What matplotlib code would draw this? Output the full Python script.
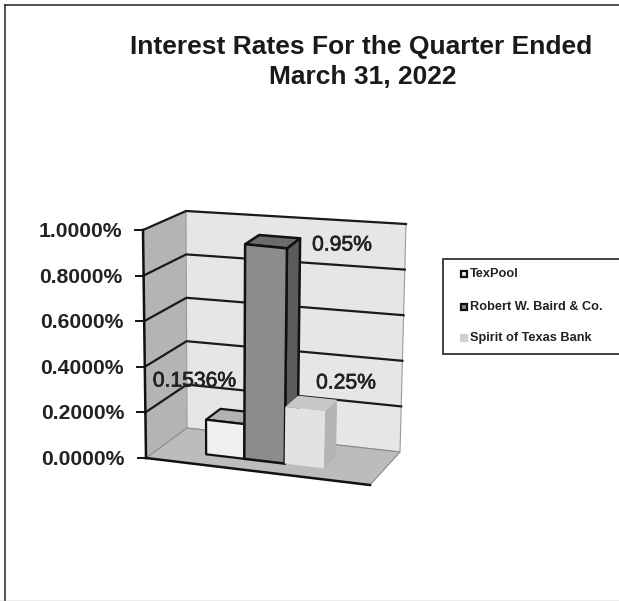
import numpy as np
import matplotlib
matplotlib.use('Agg')
import matplotlib.pyplot as plt
import matplotlib.patheffects as pe
from matplotlib.patches import Polygon, Rectangle

plt.rcParams['font.family'] = ['Liberation Sans', 'DejaVu Sans']

names = ['TexPool', 'Robert W. Baird & Co.', 'Spirit of Texas Bank']
rates = [0.1536, 0.95, 0.25]
rate_labels = ['0.1536%', '0.95%', '0.25%']
ticks = [0.0, 0.2, 0.4, 0.6, 0.8, 1.0]
tick_labels = ['0.0000%', '0.2000%', '0.4000%', '0.6000%', '0.8000%', '1.0000%']

# corners of the 3d box in pixels, [x(left/right)][depth(front/back)][value(0/1)]
box = np.array([[[(146, 458), (143, 230)], [(187, 428), (186, 211)]],
                [[(370, 485), (376, 257)], [(400, 452), (406, 224)]]], dtype=float)


def pr(u, d, v):
    a = box[0, 0, 0]*(1-u)*(1-d)*(1-v) + box[0, 0, 1]*(1-u)*(1-d)*v
    a = a + box[0, 1, 0]*(1-u)*d*(1-v) + box[0, 1, 1]*(1-u)*d*v
    a = a + box[1, 0, 0]*u*(1-d)*(1-v) + box[1, 0, 1]*u*(1-d)*v
    a = a + box[1, 1, 0]*u*d*(1-v) + box[1, 1, 1]*u*d*v
    return a


def face(ax, pts, color, edge='none', lw=0, z=1):
    ax.add_patch(Polygon([pr(*p) for p in pts], closed=True, fc=color, ec=edge, lw=lw, zorder=z, joinstyle='round'))


fig = plt.figure(figsize=(6.19, 6.01), dpi=100)
ax = fig.add_axes([0, 0, 1, 1])
ax.set_xlim(0, 619)
ax.set_ylim(601, 0)
ax.axis('off')

# scan edge of the page
ax.plot([5, 5], [601, 5], color='#333333', lw=1.2)
ax.plot([5, 619], [4.5, 4.5], color='#333333', lw=1.2)
ax.plot([0, 619], [600.5, 600.5], color='#aaaaaa', lw=1)

ax.text(361.5, 47, 'Interest Rates For the Quarter Ended', ha='center', va='center', fontsize=19, fontweight='bold', color='#1a1a1a')
ax.text(363, 77, 'March 31, 2022', ha='center', va='center', fontsize=19, fontweight='bold', color='#1a1a1a')

# walls and floor
face(ax, [(0, 0, 0), (0, 1, 0), (0, 1, 1), (0, 0, 1)], '#b4b4b4')
face(ax, [(0, 1, 0), (1, 1, 0), (1, 1, 1), (0, 1, 1)], '#e6e6e6', '#9a9a9a', 0.8)
face(ax, [(0, 0, 0), (1, 0, 0), (1, 1, 0), (0, 1, 0)], '#bcbcbc', '#8a8a8a', 0.8)

# grid lines go round the side wall and along the back
for t, lab in zip(ticks, tick_labels):
    v = t
    if t > 0:
        p = np.array([pr(0, 0, v), pr(0, 1, v), pr(1, 1, v)])
        ax.plot(p[:, 0], p[:, 1], color='#1a1a1a', lw=1.6, zorder=2)
    q = pr(0, 0, v)
    ax.plot([q[0]-8, q[0]], [q[1], q[1]], color='#111111', lw=1.4, zorder=3)
    ax.text(q[0]-21, q[1]+1.5, lab, ha='right', va='center', fontsize=15.2, fontweight='bold', color='#222222')

a, b = pr(0, 0, 0), pr(0, 0, 1)
ax.plot([a[0], b[0]], [a[1], b[1]], color='#111111', lw=1.8, zorder=3)
a, b = pr(0, 0, 0), pr(1, 0, 0)
ax.plot([a[0], b[0]], [a[1], b[1]], color='#111111', lw=1.8, zorder=3)

# bars
u_edges = [0.215, 0.388, 0.571, 0.749]
d0, d1 = 0.31, 0.68
front_col = ['#f0f0f0', '#8c8c8c', '#e2e2e2']
top_col = ['#b2b2b2', '#6c6c6c', '#c8c8c8']
side_col = ['#9a9a9a', '#5c5c5c', '#b4b4b4']
edge_col = ['#111111', '#111111', 'none']
edge_w = [1.6, 1.8, 0]
for i in range(3):
    u0, u1 = u_edges[i], u_edges[i+1]
    h = rates[i]
    z = 4 + i
    face(ax, [(u1, d0, 0), (u1, d1, 0), (u1, d1, h), (u1, d0, h)], side_col[i], edge_col[i], edge_w[i], z)
    face(ax, [(u0, d0, h), (u1, d0, h), (u1, d1, h), (u0, d1, h)], top_col[i], edge_col[i], edge_w[i], z)
    face(ax, [(u0, d0, 0), (u1, d0, 0), (u1, d0, h), (u0, d0, h)], front_col[i], edge_col[i], edge_w[i], z)

# value labels
label_x = [194.5, 342, 346]
label_y = [381, 245, 383]
for lab, x, y in zip(rate_labels, label_x, label_y):
    ax.text(x, y, lab, ha='center', va='center', fontsize=15.2, color='#222222', zorder=10,
            path_effects=[pe.withStroke(linewidth=0.5, foreground='#222222')])

# legend
ax.add_patch(Rectangle((443, 259), 180, 95, fc='white', ec='#222222', lw=1.2, zorder=5))
leg_y = [274, 307, 338]
mark_fc = ['#f0f0f0', '#8c8c8c', '#d0d0d0']
mark_ec = ['#111111', '#111111', '#d0d0d0']
for n, y, fc_, ec_ in zip(names, leg_y, mark_fc, mark_ec):
    ax.add_patch(Rectangle((461, y-3), 6, 6, fc=fc_, ec=ec_, lw=1.6, zorder=6))
    ax.text(470, y, n, ha='left', va='center', fontsize=9.2, fontweight='bold', color='#222222', zorder=6)

fig.savefig('out.png', dpi=100)
